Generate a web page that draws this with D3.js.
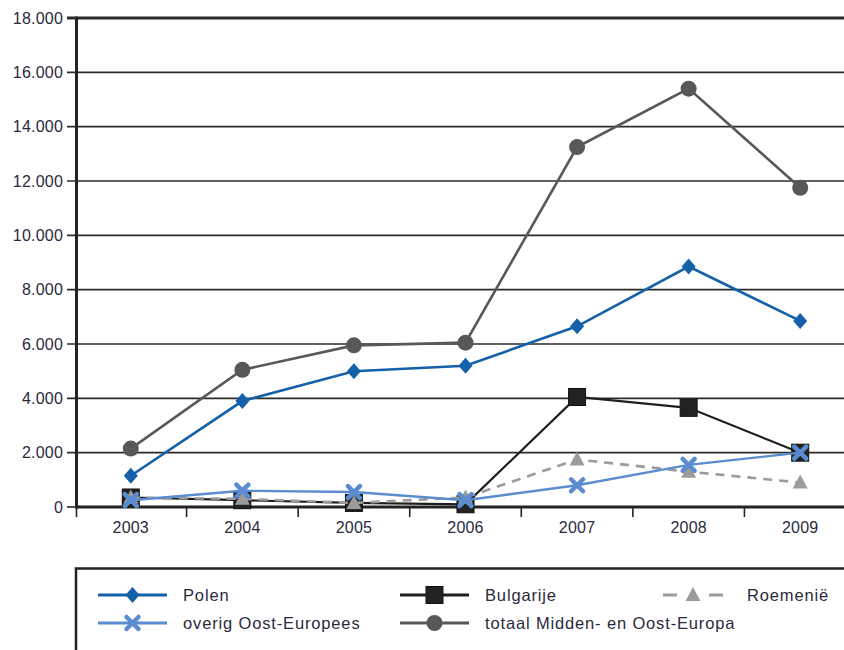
<!DOCTYPE html>
<html><head><meta charset="utf-8">
<script src="https://cdn.jsdelivr.net/npm/d3@7"></script>
<style>
html,body{margin:0;padding:0;background:#fff;}
svg{display:block;font-family:"Liberation Sans",Arial,sans-serif;}
</style></head>
<body>
<svg id="chart" width="844" height="650"></svg>
<script>
const years = ["2003","2004","2005","2006","2007","2008","2009"];
const polen = [1150, 3900, 5000, 5200, 6650, 8850, 6850];
const bulgarije = [350, 250, 150, 100, 4050, 3650, 2000];
const roemenie = [350, 300, 150, 350, 1750, 1300, 900];
const overig = [250, 600, 550, 250, 800, 1550, 2000];
const totaal = [2150, 5050, 5950, 6050, 13250, 15400, 11750];
const yTicks = [0, 2000, 4000, 6000, 8000, 10000, 12000, 14000, 16000, 18000];
const seriesNames = ["Polen","Bulgarije","Roemenië","overig Oost-Europees","totaal Midden- en Oost-Europa"];

const svg = d3.select("#chart");
const x = d3.scaleBand().domain(years).range([75, 856]);
const cx = d => x(d) + x.bandwidth()/2;
const y = d3.scaleLinear().domain([0, 18000]).range([507, 18]);
const fmt = v => d3.format(",")(v).replace(/,/g, ".");

// gridlines
svg.append("g").selectAll("line").data(yTicks.filter(v => v > 0)).join("line")
  .attr("x1", 67).attr("x2", 844)
  .attr("y1", d => y(d)).attr("y2", d => y(d))
  .attr("stroke", "#2b2b2b")
  .attr("stroke-width", d => d === 18000 ? 3 : 1.6);
svg.append("line").attr("x1", 67).attr("x2", 77).attr("y1", y(0)).attr("y2", y(0))
  .attr("stroke", "#2b2b2b").attr("stroke-width", 1.6);
// y labels
svg.append("g").selectAll("text").data(yTicks).join("text")
  .attr("x", 63).attr("y", d => y(d)).attr("dy", "0.36em")
  .attr("text-anchor", "end").attr("font-size", 16).attr("letter-spacing", 0.2).attr("fill", "#2a2a3c")
  .text(fmt);

// x axis line
svg.append("line").attr("x1", 76).attr("x2", 844).attr("y1", y(0)).attr("y2", y(0))
  .attr("stroke", "#222").attr("stroke-width", 3);
// y axis line
svg.append("line").attr("x1", 76.5).attr("x2", 76.5).attr("y1", y(18000) - 1.5).attr("y2", y(0) + 1.5)
  .attr("stroke", "#222").attr("stroke-width", 3);
// x tick marks at band boundaries
svg.append("g").selectAll("line").data(years).join("line")
  .attr("x1", d => x(d) === 75 ? 76.5 : x(d)).attr("x2", d => x(d) === 75 ? 76.5 : x(d))
  .attr("y1", y(0)).attr("y2", y(0) + 10)
  .attr("stroke", "#222").attr("stroke-width", 1.6);
// x labels
svg.append("g").selectAll("text").data(years).join("text")
  .attr("x", cx).attr("y", 533)
  .attr("text-anchor", "middle").attr("font-size", 16).attr("letter-spacing", 0.2).attr("fill", "#2a2a3c")
  .text(d => d);

const series = [
  {name: seriesNames[4], vals: totaal, color: "#585858", width: 2.6, dash: null, shape: "circle"},
  {name: seriesNames[0], vals: polen, color: "#1561a9", width: 2.6, dash: null, shape: "diamond"},
  {name: seriesNames[1], vals: bulgarije, color: "#1e1e1e", width: 2.2, dash: null, shape: "square"},
  {name: seriesNames[2], vals: roemenie, color: "#9b9b9b", width: 2.6, dash: "9,7", shape: "triangle"},
  {name: seriesNames[3], vals: overig, color: "#5b8ccf", width: 2.4, dash: null, shape: "cross"}
];

function drawMarker(g, shape, color, px, py) {
  if (shape === "circle") {
    g.append("circle").attr("cx", px).attr("cy", py).attr("r", 8).attr("fill", color);
  } else if (shape === "diamond") {
    g.append("path").attr("d", `M${px},${py-8}L${px+7},${py}L${px},${py+8}L${px-7},${py}Z`).attr("fill", color);
  } else if (shape === "square") {
    g.append("rect").attr("x", px-8.5).attr("y", py-8.5).attr("width", 17).attr("height", 17)
      .attr("fill", "#222").attr("stroke", "#111").attr("stroke-width", 1);
  } else if (shape === "triangle") {
    g.append("path").attr("d", `M${px},${py-8}L${px+7.5},${py+6}L${px-7.5},${py+6}Z`).attr("fill", color);
  } else if (shape === "cross") {
    const s = 6;
    g.append("path").attr("d", `M${px-s},${py-s}L${px+s},${py+s}M${px+s},${py-s}L${px-s},${py+s}`)
      .attr("stroke", color).attr("stroke-width", 4.5).attr("stroke-linecap", "round").attr("fill", "none");
  }
}

const line = d3.line().x(d => cx(d.year)).y(d => y(d.v));
series.forEach(s => {
  const pts = years.map((yr, i) => ({year: yr, v: s.vals[i]}));
  const g = svg.append("g");
  g.append("path").attr("d", line(pts)).attr("fill", "none")
    .attr("stroke", s.color).attr("stroke-width", s.width)
    .attr("stroke-dasharray", s.dash);
  pts.forEach(p => drawMarker(g, s.shape, s.color, cx(p.year), y(p.v)));
});

// legend
const lg = svg.append("g");
lg.append("path").attr("d", "M76,660L76,568.5L850,568.5").attr("fill", "none")
  .attr("stroke", "#222").attr("stroke-width", 2.5);
const legendItems = [
  {s: series[1], lx: 98, ly: 595},
  {s: series[2], lx: 400, ly: 595},
  {s: series[3], lx: 663, ly: 595},
  {s: series[4], lx: 98, ly: 623},
  {s: series[0], lx: 400, ly: 623}
];
legendItems.forEach(it => {
  const s = it.s;
  const x1 = it.lx, x2 = s.shape === "triangle" ? 723 : it.lx + 69;
  const mid = (x1 + x2) / 2;
  if (s.dash) {
    lg.append("line").attr("x1", x1).attr("x2", x1 + 14).attr("y1", it.ly).attr("y2", it.ly)
      .attr("stroke", s.color).attr("stroke-width", 3);
    lg.append("line").attr("x1", x2 - 14).attr("x2", x2).attr("y1", it.ly).attr("y2", it.ly)
      .attr("stroke", s.color).attr("stroke-width", 3);
  } else {
    lg.append("line").attr("x1", x1).attr("x2", x2).attr("y1", it.ly).attr("y2", it.ly)
      .attr("stroke", s.color).attr("stroke-width", 3);
  }
  drawMarker(lg, s.shape, s.color, mid, it.ly);
  const tx = s.shape === "triangle" ? 747 : x2 + 16;
  lg.append("text").attr("x", tx).attr("y", it.ly).attr("dy", "0.36em")
    .attr("font-size", 16.5).attr("letter-spacing", 0.85).attr("fill", "#2a2a3c").text(s.name);
});
</script>
</body></html>
